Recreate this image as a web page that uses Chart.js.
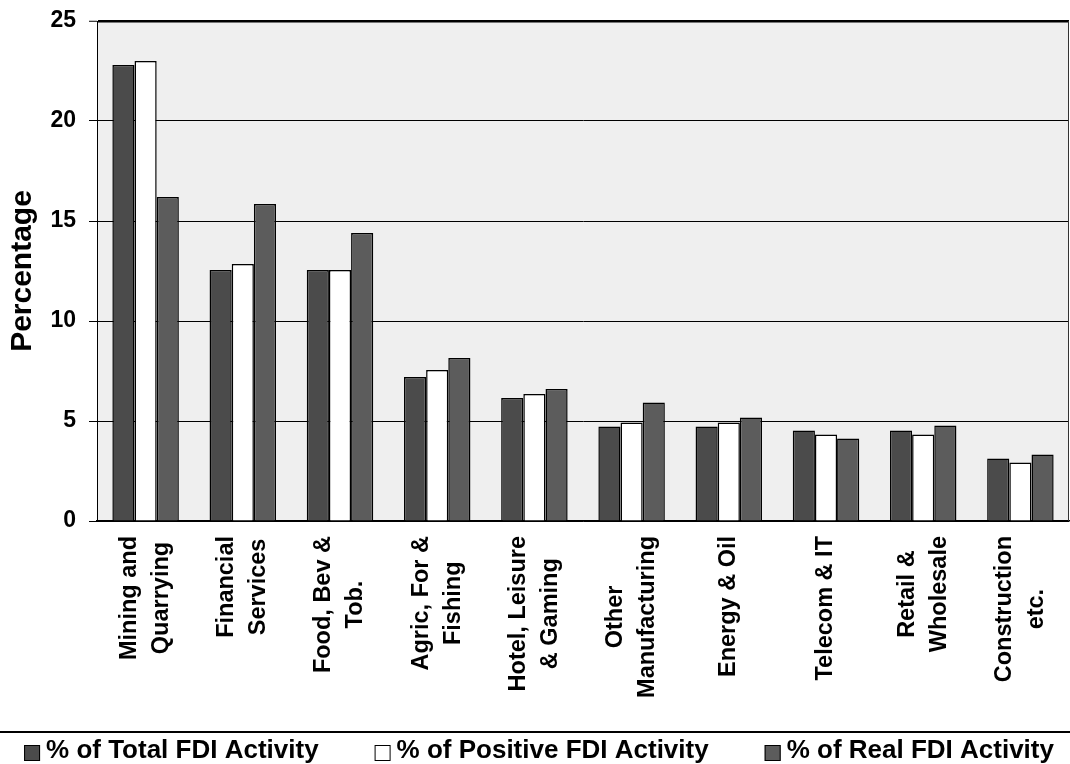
<!DOCTYPE html>
<html>
<head>
<meta charset="utf-8">
<script src="https://cdn.jsdelivr.net/npm/chart.js@4.4.1/dist/chart.umd.min.js"></script>
<style>
  html, body { margin: 0; padding: 0; background: #ffffff; }
  #wrap { width: 1070px; height: 764px; position: relative; }
</style>
</head>
<body>
<div id="wrap"><canvas id="c"></canvas></div>
<script>
const categories = [
  ["Mining and", "Quarrying"],
  ["Financial", "Services"],
  ["Food, Bev &", "Tob."],
  ["Agric, For &", "Fishing"],
  ["Hotel, Leisure", "& Gaming"],
  ["Other", "Manufacturing"],
  ["Energy & Oil"],
  ["Telecom & IT"],
  ["Retail &", "Wholesale"],
  ["Construction", "etc."]
];
const totalFDI    = [22.8, 12.55, 12.55, 7.2, 6.15, 4.72, 4.72, 4.52, 4.52, 3.12];
const positiveFDI = [23.0, 12.85, 12.55, 7.55, 6.35, 4.93, 4.93, 4.33, 4.33, 2.93];
const realFDI     = [16.2, 15.85, 14.4, 8.15, 6.6, 5.92, 5.18, 4.12, 4.78, 3.32];
const seriesNames = ["% of Total FDI Activity", "% of Positive FDI Activity", "% of Real FDI Activity"];
const yTicks = [0, 5, 10, 15, 20, 25];
const yTitle = "Percentage";

const FONT = "'Liberation Sans', Arial, Helvetica, sans-serif";
const colors = ["#4b4b4b", "#ffffff", "#5c5c5c"];

const plotBg = {
  id: 'plotBg',
  beforeDraw(chart) {
    const {ctx, chartArea: a} = chart;
    ctx.save();
    ctx.fillStyle = '#efefef';
    ctx.fillRect(a.left, a.top, a.right - a.left, a.bottom - a.top);
    ctx.restore();
  },
  afterDraw(chart) {
    const {ctx, chartArea: a} = chart;
    ctx.save();
    // right border
    ctx.strokeStyle = '#333333';
    ctx.lineWidth = 1;
    ctx.beginPath();
    ctx.moveTo(a.right - 0.5, a.top);
    ctx.lineTo(a.right - 0.5, a.bottom);
    ctx.stroke();

    // category labels (rotated, lines centered on each other)
    const xs = chart.scales.x;
    ctx.fillStyle = '#000';
    ctx.font = "bold 23.5px " + FONT;
    ctx.textAlign = 'center';
    ctx.textBaseline = 'middle';
    const lineH = 32;
    const top = a.bottom + 15;
    categories.forEach((lines, i) => {
      const x = xs.getPixelForTick(i);
      const maxW = Math.max(...lines.map(l => ctx.measureText(l).width));
      ctx.save();
      ctx.translate(x, top + maxW / 2);
      ctx.rotate(-Math.PI / 2);
      lines.forEach((l, k) => {
        const off = (k - (lines.length - 1) / 2) * lineH;
        ctx.fillText(l, 0, off);
      });
      ctx.restore();
    });

    // legend separator line
    ctx.strokeStyle = '#000';
    ctx.lineWidth = 2;
    ctx.beginPath();
    ctx.moveTo(0, 732);
    ctx.lineTo(chart.width, 732);
    ctx.stroke();

    // legend
    ctx.font = "bold 26px " + FONT;
    ctx.textAlign = 'left';
    ctx.textBaseline = 'alphabetic';
    const box = 16, boxGap = 6, itemGap = 56;
    const widths = seriesNames.map(t => box + boxGap + ctx.measureText(t).width);
    const total = widths.reduce((s, w) => s + w, 0) + itemGap * (widths.length - 1);
    let cx = (chart.width - total) / 2 + 4;
    seriesNames.forEach((t, i) => {
      ctx.fillStyle = colors[i];
      ctx.fillRect(cx, 745, box, box);
      ctx.strokeStyle = '#000';
      ctx.lineWidth = 1;
      ctx.strokeRect(cx + 0.5, 745.5, box - 1, box - 1);
      ctx.fillStyle = '#000';
      ctx.fillText(t, cx + box + boxGap, 758);
      cx += widths[i] + itemGap;
    });
    ctx.restore();
  }
};

const mk = (label, data, color) => ({
  label, data,
  backgroundColor: color,
  borderColor: '#000000',
  borderWidth: 1.5,
  borderSkipped: 'bottom',
  barPercentage: 1.0,
  categoryPercentage: 0.684
});

new Chart(document.getElementById('c'), {
  type: 'bar',
  data: {
    labels: categories,
    datasets: [
      mk(seriesNames[0], totalFDI, colors[0]),
      mk(seriesNames[1], positiveFDI, colors[1]),
      mk(seriesNames[2], realFDI, colors[2])
    ]
  },
  options: {
    responsive: true,
    maintainAspectRatio: false,
    animation: false,
    layout: { padding: { top: 21, right: 1, left: 0, bottom: 0 } },
    plugins: {
      legend: { display: false },
      tooltip: { enabled: false }
    },
    scales: {
      x: {
        grid: { display: false },
        border: { display: true, color: '#000', width: 1.5 },
        ticks: { display: false },
        afterFit(scale) { scale.height = 243; }
      },
      y: {
        min: 0, max: 25,
        afterBuildTicks(scale) { scale.ticks = yTicks.map(v => ({ value: v })); },
        afterFit(scale) { scale.width = 97; scale.paddingTop = 0; scale.paddingBottom = 0; },
        grid: {
          color: '#000',
          lineWidth: (c) => (c.tick && c.tick.value === 25 ? 2.5 : 1),
          drawTicks: true,
          tickLength: 8,
          tickColor: '#000',
          tickWidth: 1
        },
        border: { display: true, color: '#000', width: 1 },
        ticks: {
          color: '#000',
          padding: 13,
          font: { family: FONT, size: 23, weight: 'bold' }
        },
        title: {
          display: true,
          text: yTitle,
          color: '#000',
          padding: { top: 5, bottom: 0 },
          font: { family: FONT, size: 30, weight: 'bold' }
        }
      }
    }
  },
  plugins: [plotBg]
});
</script>
</body>
</html>
